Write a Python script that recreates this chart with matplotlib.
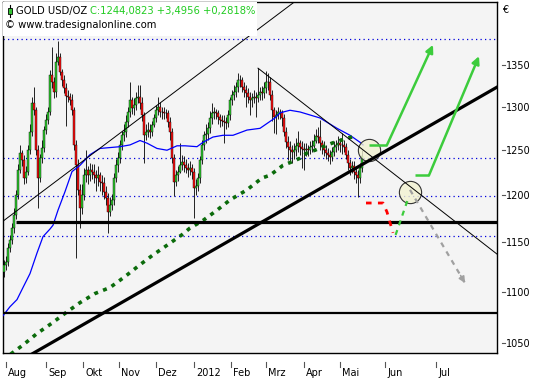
import numpy as np
import matplotlib
matplotlib.use('Agg')
import matplotlib.pyplot as plt
from matplotlib import transforms
from matplotlib.patches import Rectangle
from matplotlib.lines import Line2D
from matplotlib.ticker import NullLocator

plt.rcParams['font.family'] = ['DejaVu Sans']

# ---------------- data (daily bars, index 0..179) ----------------
first_open = 1120
closes = [1127,1130,1144,1152,1165,1179,1200,1228,1247,1239,
          1219,1226,1250,1271,1304,1296,1250,1219,1241,1252,
          1273,1285,1294,1338,1329,1317,1354,1360,1342,1332,
          1322,1313,1312,1308,1296,1256,1233,1206,1186,1200,
          1222,1228,1222,1228,1226,1222,1219,1222,1215,1214,
          1204,1197,1182,1190,1195,1219,1233,1241,1256,1267,
          1271,1282,1294,1308,1299,1302,1310,1312,1304,1290,
          1267,1271,1273,1271,1279,1287,1296,1300,1294,1294,
          1293,1293,1282,1271,1241,1215,1222,1226,1233,1237,
          1233,1230,1228,1230,1226,1208,1210,1219,1239,1256,
          1267,1268,1275,1287,1293,1294,1293,1288,1285,1283,
          1282,1281,1290,1308,1314,1317,1323,1332,1332,1324,
          1320,1316,1312,1308,1310,1312,1310,1314,1317,1316,
          1322,1329,1329,1314,1296,1288,1290,1294,1294,1287,
          1271,1259,1254,1250,1248,1250,1255,1258,1254,1251,
          1250,1251,1250,1254,1255,1261,1266,1265,1258,1254,
          1250,1247,1245,1242,1248,1254,1256,1258,1256,1256,
          1254,1245,1236,1230,1232,1226,1222,1219,1230,1244]
highs = [1132,1136,1149,1158,1170,1186,1206,1234,1256,1250,
         1245,1232,1256,1280,1312,1323,1300,1256,1246,1262,
         1278,1292,1300,1344,1372,1335,1365,1380,1365,1345,
         1338,1328,1320,1316,1315,1300,1262,1240,1212,1212,
         1230,1250,1232,1236,1234,1235,1228,1232,1226,1222,
         1220,1210,1203,1198,1202,1225,1240,1248,1262,1272,
         1280,1290,1300,1330,1312,1310,1318,1326,1326,1312,
         1294,1280,1282,1280,1284,1292,1302,1312,1306,1300,
         1300,1298,1296,1288,1275,1246,1228,1232,1258,1245,
         1244,1240,1236,1238,1235,1230,1218,1224,1244,1262,
         1272,1280,1282,1295,1305,1300,1298,1296,1292,1290,
         1290,1288,1296,1312,1320,1326,1330,1340,1338,1336,
         1330,1326,1322,1318,1316,1320,1318,1346,1324,1325,
         1330,1343,1340,1336,1320,1300,1296,1300,1298,1296,
         1292,1276,1266,1260,1256,1258,1264,1272,1262,1260,
         1258,1258,1256,1260,1262,1268,1274,1276,1285,1262,
         1260,1256,1252,1250,1254,1260,1262,1266,1264,1270,
         1262,1258,1250,1240,1238,1238,1232,1228,1236,1250]
lows = [1115,1122,1126,1140,1148,1160,1175,1196,1224,1232,
        1212,1214,1222,1246,1266,1290,1245,1186,1215,1236,
        1248,1268,1280,1290,1322,1310,1312,1350,1338,1325,
        1316,1278,1306,1302,1290,1250,1134,1200,1165,1180,
        1195,1215,1212,1216,1218,1214,1205,1210,1205,1200,
        1196,1190,1160,1178,1184,1190,1215,1226,1236,1250,
        1260,1265,1276,1288,1292,1290,1296,1304,1298,1284,
        1236,1262,1265,1264,1266,1276,1282,1290,1288,1286,
        1286,1287,1276,1262,1236,1199,1210,1216,1224,1228,
        1226,1224,1220,1222,1218,1176,1200,1205,1214,1234,
        1250,1258,1262,1270,1280,1286,1286,1280,1276,1278,
        1258,1274,1276,1285,1302,1308,1312,1318,1324,1318,
        1312,1300,1305,1290,1300,1304,1288,1306,1308,1308,
        1310,1316,1320,1308,1284,1270,1268,1286,1286,1278,
        1266,1252,1239,1238,1236,1240,1244,1248,1245,1230,
        1228,1244,1244,1246,1248,1252,1258,1258,1250,1246,
        1244,1240,1238,1234,1238,1244,1248,1250,1248,1246,
        1248,1240,1228,1222,1224,1218,1214,1198,1214,1226]

month_labels = ['Aug', 'Sep', 'Okt', 'Nov', 'Dez', '2012', 'Feb', 'Mrz', 'Apr', 'Mai', 'Jun', 'Jul']
month_pos = [1, 21, 39.5, 57.5, 76, 95, 113.5, 131, 150, 168, 190.5, 216]
y_ticks = [1050, 1100, 1150, 1200, 1250, 1300, 1350]

# blue moving average
ma_x = [-1, 3, 6.5, 9.5, 13, 16.5, 19.5, 23, 24.5, 27, 30.5, 34, 38, 43, 48, 58, 63, 68, 71.5, 76.5,
        81.5, 86.5, 90.5, 96.5, 99.5, 104.5, 109.5, 114.5, 121.5, 128, 135.5, 138, 143, 148, 158,
        166.5, 173, 178, 179.5]
ma_y = [1075, 1085, 1092, 1104, 1118, 1139, 1156, 1164, 1168, 1184, 1204, 1226, 1233, 1245, 1252,
        1254, 1256, 1261, 1258, 1252, 1250, 1255, 1255, 1254, 1259, 1265, 1267, 1267, 1273, 1275,
        1287, 1293, 1296, 1294, 1287, 1275, 1267, 1259, 1256]
# green dotted long moving average
ma2_x = [-1, 3, 9.5, 16.5, 24, 30.5, 38, 45.5, 53, 60.5, 68, 74.5, 81.5, 89, 93, 99.5, 106.5, 113,
         121.5, 129, 133, 139.5, 144, 148, 151.5, 155.5, 159.5, 164, 168, 172, 176.5]
ma2_y = [1036, 1039, 1048, 1059, 1069, 1078.5, 1089, 1098, 1104, 1115, 1127, 1137, 1147, 1158, 1165,
         1173, 1184, 1195, 1206, 1219, 1222, 1233, 1237, 1241, 1247, 1250, 1254, 1258, 1261, 1264, 1266]

dotted_levels = [1382, 1241.5, 1199, 1156.5]
support_hi = 1171.5
support_hi_start = 6
support_lo = 1078.5

upper_thin_x = [-1, 145.5]
upper_thin_y = [1171.5, 1430]
down_thin_x = [127, 246.5]
down_thin_y = [1346.3, 1137.9]
up_thick_x = [9, 246.5]
up_thick_y = [1034.2, 1323.4]

arrow1_x = [182.5, 191.5, 214.5]
arrow1_y = [1256, 1256, 1375]
arrow2_x = [205.5, 212.5, 237.5]
arrow2_y = [1222, 1222, 1361]
red_x = [181, 189.5, 191.5, 194.5]
red_y = [1191.7, 1191.7, 1182, 1160]
lgreen_x = [195.8, 202.3]
lgreen_y = [1157.8, 1198]
gray_x = [203, 230.5]
gray_y = [1206, 1108.5]
circle_x = [182.5, 203]
circle_y = [1250, 1204]

# ---------------- figure ----------------
W, H = 533, 380
fig = plt.figure(figsize=(W / 100, H / 100), dpi=100)
fig.patch.set_facecolor('white')
ax = fig.add_axes([3 / W, 27 / H, 494 / W, 351.5 / H])
ax.set_facecolor('#f4f4f4')
ax.set_yscale('log')
ax.set_xlim(-0.5, 246.5)
ax.set_ylim(1040.5, 1430)
for s in ax.spines.values():
    s.set_linewidth(1.0)
    s.set_color('black')

# horizontal dotted levels
for v in dotted_levels:
    ax.axhline(v, color='#0000dd', lw=0.9, linestyle=(0, (1, 2.6)), zorder=1)

# candles
n = len(closes)
xs = np.arange(n)
c_arr = np.array(closes, dtype=float)
o_arr = np.array([first_open] + closes[:-1], dtype=float)
cols = np.where(c_arr >= o_arr, '#2ecc2e', '#ff1010')
ax.vlines(xs, lows, highs, color='black', lw=0.6, zorder=2)
ax.bar(xs, c_arr - o_arr, bottom=o_arr, width=1.15, color=cols, edgecolor='black',
       linewidth=0.3, zorder=3)

# moving averages
ax.plot(ma_x, ma_y, color='#0000ff', lw=0.9, zorder=4)
ax.plot(ma2_x, ma2_y, color='#0b6b0b', lw=2.6, linestyle=(0, (1.1, 1.5)), zorder=4)

# support / trend lines
ax.hlines(support_hi, support_hi_start, 246.5, color='black', lw=2.3, zorder=4)
ax.axhline(support_lo, color='black', lw=1.6, zorder=4)
ax.plot(upper_thin_x, upper_thin_y, color='black', lw=0.7, zorder=4)
ax.plot(down_thin_x, down_thin_y, color='black', lw=0.7, zorder=6)
ax.plot(up_thick_x, up_thick_y, color='black', lw=2.3, zorder=6)

# circles
ax.plot(circle_x, circle_y, 'o', ms=16, mfc=(0.95, 0.95, 0.82, 0.8), mec='#333333', mew=0.8, zorder=5)

# scenario paths
gcol = '#3ccc3c'
for ax_x, ax_y in [(arrow1_x, arrow1_y), (arrow2_x, arrow2_y)]:
    ax.plot(ax_x[:-1], ax_y[:-1], color=gcol, lw=1.8, zorder=7, solid_capstyle='butt')
    ax.annotate('', xy=(ax_x[-1], ax_y[-1]), xytext=(ax_x[-2], ax_y[-2]),
                arrowprops=dict(arrowstyle='-|>', color=gcol, lw=1.8, mutation_scale=11,
                                shrinkA=0, shrinkB=0), zorder=7)
ax.plot(red_x, red_y, color='#ff0000', lw=2.0, linestyle=(0, (2, 2.3)), zorder=7)
ax.plot(lgreen_x, lgreen_y, color=gcol, lw=1.6, linestyle=(0, (2.3, 2.3)), zorder=7)
ax.plot(gray_x, gray_y, color='#a0a0a0', lw=1.6, linestyle=(0, (2.3, 2.3)), zorder=7)
ax.annotate('', xy=(gray_x[-1], gray_y[-1]),
            xytext=(gray_x[-1] - (gray_x[-1] - gray_x[0]) * 0.08,
                    gray_y[-1] * (gray_y[0] / gray_y[-1]) ** 0.08),
            arrowprops=dict(arrowstyle='-|>', color='#a0a0a0', lw=1.2, mutation_scale=9,
                            shrinkA=0, shrinkB=0), zorder=7)

# y axis on the right
ax.yaxis.tick_right()
ax.set_yticks(y_ticks)
ax.set_yticklabels([str(v) for v in y_ticks])
ax.yaxis.set_minor_locator(NullLocator())
ax.tick_params(axis='y', length=0, pad=6.5, labelsize=7, labelcolor='black')
ytr = transforms.blended_transform_factory(ax.transAxes, ax.transData)
for v in y_ticks:
    ax.add_line(Line2D([1.01, 1.016], [v, v], transform=ytr, color='#555555', lw=0.8, clip_on=False))

# x axis months
ax.set_xticks(month_pos)
ax.set_xticklabels(month_labels)
ax.tick_params(axis='x', length=0, pad=11, labelsize=7)
off = transforms.ScaledTranslation(2 / 100, 0, fig.dpi_scale_trans)
for lbl in ax.get_xticklabels():
    lbl.set_ha('left')
    lbl.set_transform(lbl.get_transform() + off)
xtr = transforms.blended_transform_factory(ax.transData, ax.transAxes)
for p in month_pos:
    ax.add_line(Line2D([p, p], [-0.026, -0.040], transform=xtr, color='#555555', lw=0.8, clip_on=False))

# header box
fig.add_artist(Rectangle((3 / W, 1 - 36 / H), 254 / W, 34 / H, transform=fig.transFigure,
                         facecolor='white', edgecolor='none', zorder=2))
# small candle icon
fig.add_artist(Line2D([9.5 / W, 9.5 / W], [1 - 5 / H, 1 - 17 / H], transform=fig.transFigure,
                      color='black', lw=0.8, zorder=3))
fig.add_artist(Rectangle((7.5 / W, 1 - 14 / H), 4 / W, 6 / H, transform=fig.transFigure,
                         facecolor='#33c433', edgecolor='black', lw=0.6, zorder=4))
t1 = fig.text(16 / W, 1 - 11 / H, 'GOLD USD/OZ ', fontsize=7.2, va='center', ha='left', zorder=5)
fig.add_artist(plt.Annotation('C:1244,0823 +3,4956 +0,2818%', xy=(1, 0.5), xycoords=t1,
                              va='center', ha='left', fontsize=7.2, color='#22cc22', zorder=5))
fig.text(5 / W, 1 - 25 / H, '\u00a9 www.tradesignalonline.com', fontsize=7.2, va='center',
         ha='left', zorder=5)
fig.text(502 / W, 1 - 10 / H, '\u20ac', fontsize=7, va='center', ha='left')

fig.savefig('out.png', dpi=100, facecolor='white')
